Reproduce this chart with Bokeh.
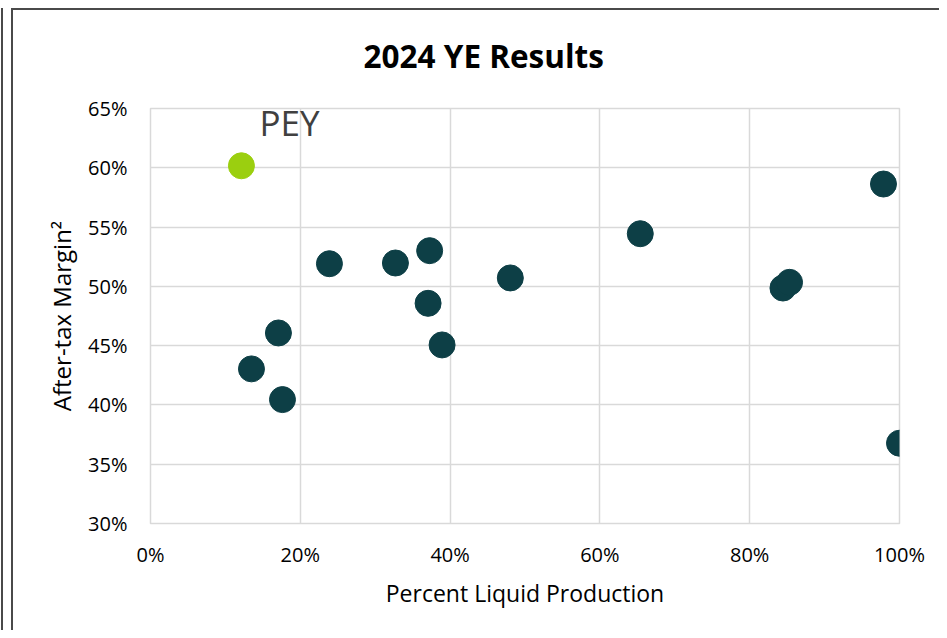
from bokeh.plotting import figure
from bokeh.models import FixedTicker, NumeralTickFormatter, Range1d, Label, ColumnDataSource
from bokeh.embed import file_html
from bokeh.resources import INLINE

# ---- data (fractions) ----
liquid_pct = [0.1348, 0.1708, 0.1762, 0.2389, 0.3270, 0.3727, 0.3706, 0.3893,
              0.4804, 0.6539, 0.8444, 0.8532, 0.9786, 1.0000]
margin_pct = [0.4304, 0.4607, 0.4045, 0.5191, 0.5197, 0.5301, 0.4857, 0.4506,
              0.5071, 0.5444, 0.4986, 0.5034, 0.5863, 0.3677]
pey_liquid = [0.1214]
pey_margin = [0.6017]
pey_name = "PEY"
x_ticks = [0.0, 0.2, 0.4, 0.6, 0.8, 1.0]
y_ticks = [0.30, 0.35, 0.40, 0.45, 0.50, 0.55, 0.60, 0.65]
title_text = "2024 YE Results"
x_title = "Percent Liquid Production"
y_title = "After-tax Margin\u00b2"

FONT = "Open Sans"
FRAME = "#4a4a4a"
GRID = "#d9d9d9"

p = figure(width=939, height=630, x_range=Range1d(0, 1), y_range=Range1d(0.30, 0.65),
           output_backend="svg", toolbar_location=None,
           min_border_left=150, min_border_right=40, min_border_top=108, min_border_bottom=107)

# chart-area frame lines drawn as inset shadows behind the transparent canvas border
p.styles = {
    "background-color": "#ffffff",
    "box-shadow": (f"inset 0 8px 0 0 #ffffff, inset 1px 0 0 0 #ffffff, "
                   f"inset 3px 0 0 0 {FRAME}, inset 11px 0 0 0 #ffffff, "
                   f"inset 13px 10px 0 0 {FRAME}"),
}

p.background_fill_color = "white"
p.border_fill_color = None
p.outline_line_color = GRID
p.outline_line_width = 1.5

# title
p.title.text = title_text
p.title.align = "left"
p.title.offset = 213
p.title.text_font = FONT
p.title.text_font_size = "31.5px"
p.title.text_font_style = "bold"
p.title.text_color = "#000000"
p.title.standoff = 63

# axes
for ax in (p.xaxis[0], p.yaxis[0]):
    ax.axis_line_color = None
    ax.major_tick_line_color = None
    ax.minor_tick_line_color = None
    ax.formatter = NumeralTickFormatter(format="0%")
    ax.major_label_text_font = FONT
    ax.major_label_text_font_size = "20px"
    ax.major_label_text_color = "#000000"
    ax.axis_label_text_font = FONT
    ax.axis_label_text_font_style = "normal"
    ax.axis_label_text_color = "#000000"

p.xaxis.axis_label_text_font_size = "23px"
p.yaxis.axis_label_text_font_size = "24px"
p.xaxis.ticker = FixedTicker(ticks=x_ticks)
p.yaxis.ticker = FixedTicker(ticks=y_ticks)
p.xaxis.axis_label = x_title
p.yaxis.axis_label = y_title
p.xaxis.major_label_standoff = 11
p.yaxis.major_label_standoff = 17
p.xaxis.axis_label_standoff = 6
p.yaxis.axis_label_standoff = 7

p.xgrid.ticker = FixedTicker(ticks=x_ticks)
p.ygrid.ticker = FixedTicker(ticks=y_ticks)
for g in (p.xgrid[0], p.ygrid[0]):
    g.grid_line_color = GRID
    g.grid_line_width = 1.5

src = ColumnDataSource(dict(x=liquid_pct, y=margin_pct))
p.scatter("x", "y", source=src, size=26, color="#0d3f46")
psrc = ColumnDataSource(dict(x=pey_liquid, y=pey_margin))
p.scatter("x", "y", source=psrc, size=26, color="#9bcf0f")

p.add_layout(Label(x=pey_liquid[0], y=pey_margin[0], x_offset=18, y_offset=43,
                   text=pey_name, text_font=FONT, text_font_size="35px",
                   text_color="#404040", text_align="left", text_baseline="middle"))

open("out.html", "w").write(file_html(p, INLINE))
